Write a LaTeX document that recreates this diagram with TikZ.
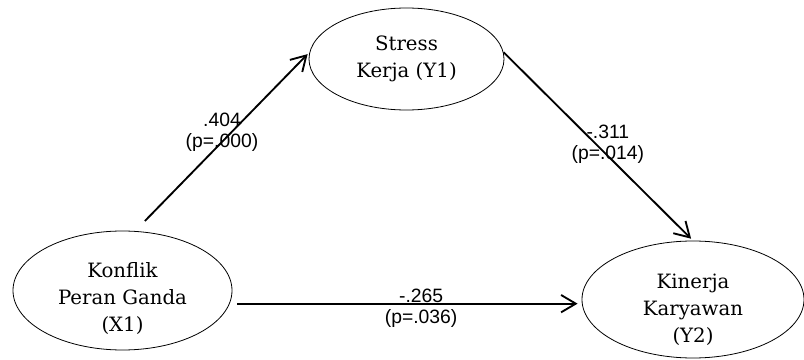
\documentclass[tikz,border=0pt]{standalone}
\usepackage{fontspec}
\setmainfont{DejaVu Serif}
\newfontfamily\numfont{Liberation Sans}
\usetikzlibrary{shapes.geometric, arrows.meta}

\begin{document}
\begin{tikzpicture}[x=0.75pt,y=-0.75pt,
  var/.style={ellipse, draw, line width=0.6pt, inner sep=0pt},
  vtext/.style={align=center, inner sep=0pt, font=\fontsize{14.8}{20.25}\selectfont},
  arr/.style={line width=1.4pt, -{Straight Barb[length=11pt,width=13pt]}},
  coef/.style={align=center, inner sep=0pt, font=\numfont\fontsize{14.5}{15.75}\selectfont}]
\useasboundingbox (0,0) rectangle (804,360);
% variables
\node[var, minimum width=164.25pt, minimum height=89.25pt,
  label={[vtext, yshift=-6pt]center:{Konflik\\Peran Ganda\\(X1)}}] (x1) at (122.5,290.5) {};
\node[var, vtext, minimum width=146.25pt, minimum height=76.5pt] (y1) at (406.5,59) {Stress\\Kerja (Y1)};
\node[var, minimum width=166.5pt, minimum height=87.75pt,
  label={[vtext, yshift=-7.5pt]center:{Kinerja\\Karyawan\\(Y2)}}] (y2) at (693,299.5) {};
% paths
\draw[arr, shorten <=10.5pt, shorten >=2pt] (x1.78) -- node[coef, pos=0.55, xshift=-6.75pt] {.404\\(p=.000)} (y1.176);
\draw[arr, shorten >=2pt] (y1.4) -- node[coef, pos=0.49, xshift=8.6pt] {-.311\\(p=.014)} (y2.north);
\draw[arr, shorten <=5.8pt, shorten >=3pt] (x1.-7) -- node[coef, pos=0.544, yshift=-3.75pt] {-.265\\(p=.036)} (x1.-7 -| y2.west);
\end{tikzpicture}
\end{document}
